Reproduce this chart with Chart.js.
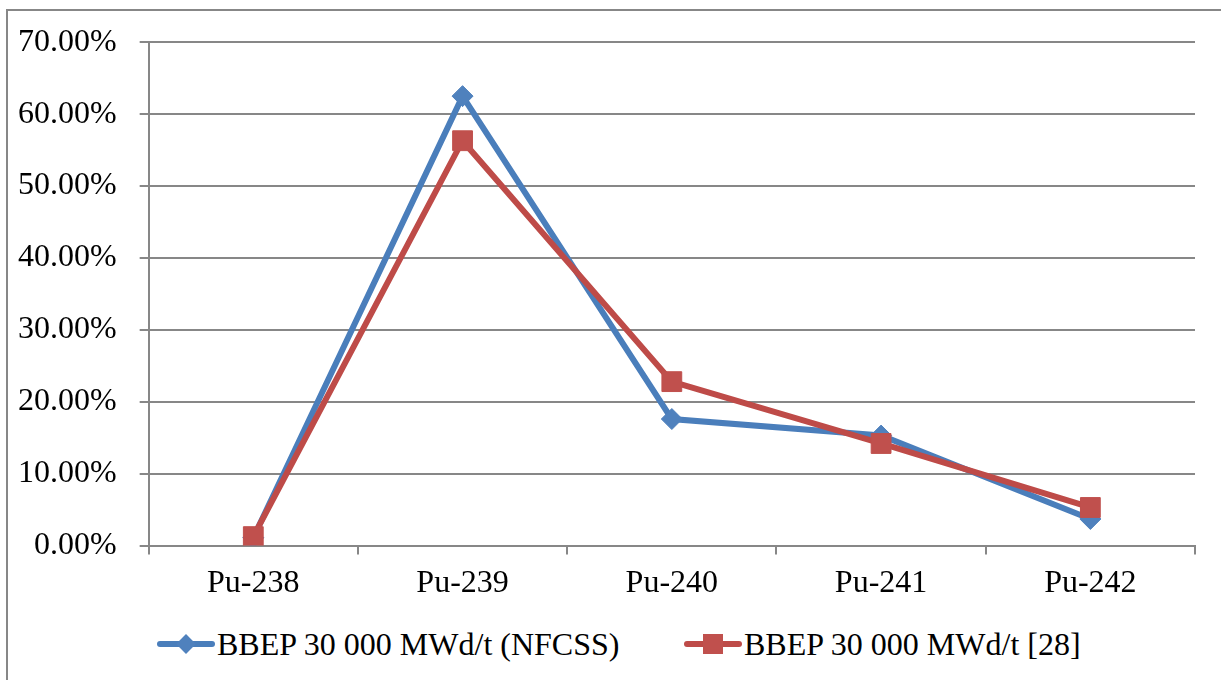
<!DOCTYPE html>
<html>
<head>
<meta charset="utf-8">
<script src="https://cdn.jsdelivr.net/npm/chart.js@4.4.1/dist/chart.umd.min.js"></script>
<style>
  html, body { margin: 0; padding: 0; background: #fff; overflow: hidden; }
  body { width: 1221px; height: 680px; position: relative; font-family: "Liberation Serif", "Times New Roman", serif; }
  #frame { position: absolute; left: 6px; top: 9px; width: 1400px; height: 900px; border: 2px solid #878787; box-sizing: border-box; }
  #wrap { position: absolute; left: -22px; top: 0; width: 1244px; height: 616px; }
  #legend { position: absolute; left: 0; top: 622px; width: 1221px; height: 44px; }
  .item { position: absolute; top: 0; height: 44px; display: flex; align-items: center; font-size: 32px; color: #000; white-space: nowrap; }
  .key { position: relative; width: 58px; height: 24px; margin-right: 2px; }
  .key .ln { position: absolute; left: 0; right: 0; top: 9px; height: 6px; border-radius: 3px; }
  .key .mk { position: absolute; }
</style>
</head>
<body>
<div id="frame"></div>
<div id="wrap"><canvas id="grafico"></canvas></div>
<div id="legend"></div>
<script>
// isotopes on the x axis
const isotopos = ["Pu-238", "Pu-239", "Pu-240", "Pu-241", "Pu-242"];

// isotopic fractions of plutonium (share of total)
const bbepNfcss = [0.011, 0.625, 0.176, 0.153, 0.037];
const bbepRef28 = [0.0125, 0.563, 0.228, 0.142, 0.053];

const rotulosSeries = ["BBEP 30 000 MWd/t (NFCSS)", "BBEP 30 000 MWd/t [28]"];

// y axis ticks
const ticksY = [0, 0.1, 0.2, 0.3, 0.4, 0.5, 0.6, 0.7];

const corAzulLinha = "#4A7EBB";
const corAzulPonto = "#4F81BD";
const corVermelhaLinha = "#BE4B48";
const corVermelhaPonto = "#C0504D";
const corGrade = "#878787";

const fonte = { family: "'Liberation Serif', 'Times New Roman', serif", size: 32 };

function formatarPercentual(valor) {
  return (valor * 100).toFixed(2) + "%";
}

const grafico = new Chart(document.getElementById("grafico"), {
  type: "line",
  data: {
    labels: isotopos,
    datasets: [
      {
        label: rotulosSeries[0],
        data: bbepNfcss,
        borderColor: corAzulLinha,
        borderWidth: 6,
        backgroundColor: corAzulPonto,
        pointStyle: "rectRot",
        pointRadius: 10.5,
        pointBorderWidth: 1,
        pointBorderColor: corAzulPonto,
        pointBackgroundColor: corAzulPonto,
        tension: 0,
        order: 1
      },
      {
        label: rotulosSeries[1],
        data: bbepRef28,
        borderColor: corVermelhaLinha,
        borderWidth: 6,
        backgroundColor: corVermelhaPonto,
        pointStyle: "rect",
        pointRadius: 14,
        pointBorderWidth: 1,
        pointBorderColor: corVermelhaPonto,
        pointBackgroundColor: corVermelhaPonto,
        tension: 0,
        order: 0
      }
    ]
  },
  options: {
    responsive: true,
    maintainAspectRatio: false,
    animation: false,
    layout: {
      padding: { left: 17, right: 27, top: 38, bottom: 3 }
    },
    plugins: {
      legend: { display: false },
      tooltip: { enabled: false }
    },
    scales: {
      x: {
        offset: true,
        border: { display: true, color: corGrade, width: 2 },
        grid: {
          offset: true,
          drawOnChartArea: false,
          drawTicks: true,
          tickLength: 9,
          color: corGrade,
          lineWidth: 2
        },
        ticks: {
          color: "#000",
          font: fonte,
          padding: 10,
          maxRotation: 0
        }
      },
      y: {
        min: 0,
        max: 0.7,
        afterBuildTicks: (escala) => {
          escala.ticks = ticksY.map((v) => ({ value: v }));
        },
        border: { display: true, color: corGrade, width: 2 },
        grid: {
          color: corGrade,
          lineWidth: 2,
          tickLength: 9
        },
        ticks: {
          color: "#000",
          font: fonte,
          padding: 23,
          callback: (valor) => formatarPercentual(valor)
        }
      }
    }
  }
});

// legend under the chart: line segment with the series marker
function montarLegenda() {
  const legenda = document.getElementById("legend");
  const itens = [
    { texto: rotulosSeries[0], linha: corAzulLinha, ponto: corAzulPonto, forma: "losango", x: 157 },
    { texto: rotulosSeries[1], linha: corVermelhaLinha, ponto: corVermelhaPonto, forma: "quadrado", x: 684 }
  ];
  itens.forEach((item) => {
    const el = document.createElement("div");
    el.className = "item";
    el.style.left = item.x + "px";

    const chave = document.createElement("div");
    chave.className = "key";
    const ln = document.createElement("div");
    ln.className = "ln";
    ln.style.background = item.linha;
    const mk = document.createElement("div");
    mk.className = "mk";
    mk.style.background = item.ponto;
    if (item.forma === "losango") {
      mk.style.width = "14px";
      mk.style.height = "14px";
      mk.style.left = "22px";
      mk.style.top = "5px";
      mk.style.transform = "rotate(45deg)";
    } else {
      mk.style.width = "20px";
      mk.style.height = "20px";
      mk.style.left = "19px";
      mk.style.top = "2px";
    }
    chave.appendChild(ln);
    chave.appendChild(mk);

    const txt = document.createElement("span");
    txt.textContent = item.texto;

    el.appendChild(chave);
    el.appendChild(txt);
    legenda.appendChild(el);
  });
}

montarLegenda();
</script>
</body>
</html>
